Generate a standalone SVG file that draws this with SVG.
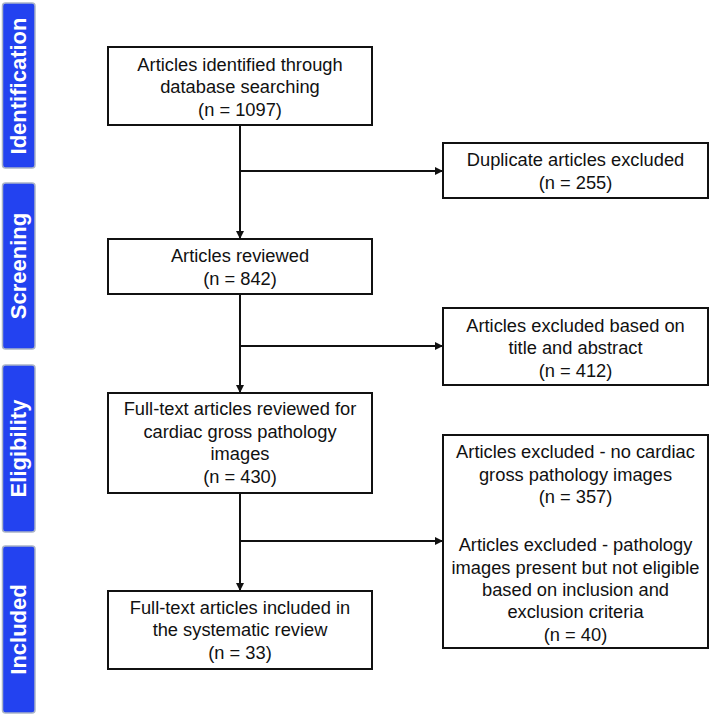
<svg xmlns="http://www.w3.org/2000/svg" width="709" height="716" viewBox="0 0 709 716">
<style>
.stage rect{fill:#2342f0;stroke:#aab4c6;stroke-width:1.5}
.stage text{font-family:"Liberation Sans",Arial,sans-serif;font-weight:bold;font-size:22px;fill:#fff;text-anchor:middle}
.box rect{fill:#fff;stroke:#111;stroke-width:2}
.box text{font-family:"Liberation Sans",Arial,sans-serif;font-size:18.3px;fill:#111;text-anchor:middle}
.conn line{stroke:#111;stroke-width:2}
</style>
<defs>
<marker id="ah" viewBox="0 0 10 10" refX="10" refY="5" markerWidth="4" markerHeight="4" markerUnits="strokeWidth" orient="auto">
<path d="M0,0 L10,5 L0,10 z" fill="#111"/>
</marker>
</defs>
<g id="stage-identification" class="stage"><rect x="2.5" y="3" width="32.5" height="165" rx="3"/><text transform="translate(26,86) rotate(-90)">Identification</text></g>
<g id="stage-screening" class="stage"><rect x="2.5" y="183" width="32.5" height="166" rx="3"/><text transform="translate(26,266) rotate(-90)">Screening</text></g>
<g id="stage-eligibility" class="stage"><rect x="2.5" y="365" width="32.5" height="167" rx="3"/><text transform="translate(26,448.5) rotate(-90)">Eligibility</text></g>
<g id="stage-included" class="stage"><rect x="2.5" y="546" width="32.5" height="167" rx="3"/><text transform="translate(26,629.5) rotate(-90)">Included</text></g>

<g id="connectors" class="conn">
<line x1="240" y1="125" x2="240" y2="239" marker-end="url(#ah)"/>
<line x1="240" y1="171" x2="443" y2="171" marker-end="url(#ah)"/>
<line x1="240" y1="294" x2="240" y2="393" marker-end="url(#ah)"/>
<line x1="240" y1="346" x2="443" y2="346" marker-end="url(#ah)"/>
<line x1="240" y1="493" x2="240" y2="591" marker-end="url(#ah)"/>
<line x1="240" y1="541" x2="443" y2="541" marker-end="url(#ah)"/>
</g>

<g id="box-identified" class="box"><rect x="108" y="47" width="264" height="78"/>
<text x="240" y="70.5">Articles identified through</text>
<text x="240" y="93">database searching</text>
<text x="240" y="115.5">(n = 1097)</text></g>

<g id="box-duplicates" class="box"><rect x="443" y="143" width="265" height="55"/>
<text x="575.5" y="166">Duplicate articles excluded</text>
<text x="575.5" y="188.5">(n = 255)</text></g>

<g id="box-reviewed" class="box"><rect x="108" y="239" width="264" height="55"/>
<text x="240" y="262">Articles reviewed</text>
<text x="240" y="284.5">(n = 842)</text></g>

<g id="box-excluded-title" class="box"><rect x="443" y="308" width="265" height="77"/>
<text x="575.5" y="331.5">Articles excluded based on</text>
<text x="575.5" y="354">title and abstract</text>
<text x="575.5" y="376.5">(n = 412)</text></g>

<g id="box-fulltext" class="box"><rect x="108" y="393" width="264" height="100"/>
<text x="240" y="415">Full-text articles reviewed for</text>
<text x="240" y="437.5">cardiac gross pathology</text>
<text x="240" y="460">images</text>
<text x="240" y="482.5">(n = 430)</text></g>

<g id="box-excluded-fulltext" class="box"><rect x="443" y="435" width="265" height="213"/>
<text x="575.5" y="458">Articles excluded - no cardiac</text>
<text x="575.5" y="480.5">gross pathology images</text>
<text x="575.5" y="503">(n = 357)</text>
<text x="575.5" y="551">Articles excluded - pathology</text>
<text x="575.5" y="573.5">images present but not eligible</text>
<text x="575.5" y="596">based on inclusion and</text>
<text x="575.5" y="618">exclusion criteria</text>
<text x="575.5" y="640.5">(n = 40)</text></g>

<g id="box-included" class="box"><rect x="108" y="591" width="264" height="78"/>
<text x="240" y="613.5">Full-text articles included in</text>
<text x="240" y="636">the systematic review</text>
<text x="240" y="658.5">(n = 33)</text></g>
</svg>
